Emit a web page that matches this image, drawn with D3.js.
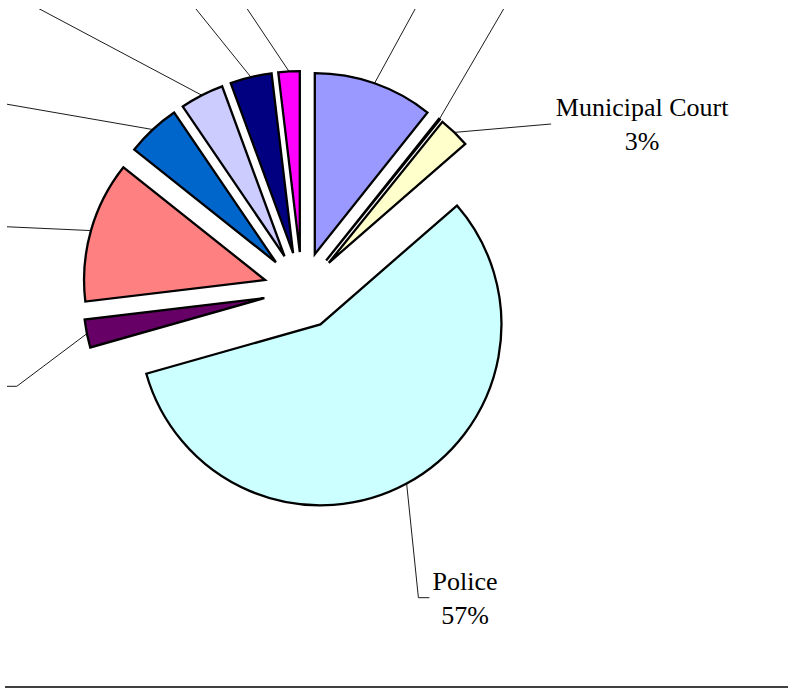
<!DOCTYPE html>
<html>
<head>
<meta charset="utf-8">
<script src="https://cdn.jsdelivr.net/npm/d3@7"></script>
<style>
  html, body { margin: 0; padding: 0; background: #fff; }
  svg { display: block; }
</style>
</head>
<body>
<svg id="chart" width="788" height="689"></svg>
<script>
// Spending by department, share of total (%)
const departments = [
  "Administration", "City Attorney", "Municipal Court", "Police", "Animal Control",
  "Fire", "Public Works", "Parks", "Library", "Planning"
];
const shares = [10.7, 0.1, 2.8, 57.0, 2.5, 12.6, 4.8, 3.9, 3.7, 1.9];
const sliceColors = [
  "#9999FF", "#993366", "#FFFFCC", "#CCFFFF", "#660066",
  "#FF8080", "#0066CC", "#CCCCFF", "#000080", "#FF00FF"
];

// Leader line bends/ends for each slice, relative to the pie centre
const leaderPoints = [
  [[123.4, -300.5]],
  [[212.6, -300.5]],
  [[249, -166.5]],
  [[116.3, 307.2], [127.3, 307.2]],
  [[-285.3, 95.8], [-312, 95.8]],
  [[-312, -64.5]],
  [[-312, -189.2]],
  [[-298.3, -300.5]],
  [[-121.4, -300.5]],
  [[-67.5, -300.5]]
];
// Label boxes that fall inside the chart area (centre relative to the pie centre)
const labelBoxes = [
  { slice: 2, dx: 340, dy: -166.5 },
  { slice: 3, dx: 163, dy: 307 }
];

const W = 788, H = 689;
const cx = 302.1, cy = 290.5;
const radius = 181;
const explode = 38.5;

const svg = d3.select("#chart");

svg.append("defs").append("clipPath").attr("id", "area")
  .append("rect").attr("x", 7).attr("y", 9).attr("width", W - 7).attr("height", H - 9);

const root = svg.append("g").attr("clip-path", "url(#area)");
const g = root.append("g").attr("transform", `translate(${cx},${cy})`);

const pie = d3.pie().sort(null).value(d => d);
const arcs = pie(shares);
const arc = d3.arc().innerRadius(0).outerRadius(radius);
const total = d3.sum(shares);
const pct = d3.format(".0%");

const mid = a => (a.startAngle + a.endAngle) / 2;
const offset = a => [explode * Math.sin(mid(a)), -explode * Math.cos(mid(a))];

// Exploded slices
g.selectAll("path.slice")
  .data(arcs)
  .join("path")
  .attr("class", "slice")
  .attr("transform", a => `translate(${offset(a)[0]},${offset(a)[1]})`)
  .attr("d", arc)
  .attr("fill", (a, i) => sliceColors[i])
  .attr("stroke", "#000")
  .attr("stroke-width", 2.3)
  .attr("stroke-linejoin", "miter");

// Leader lines from the middle of each slice's rim
const line = d3.line();
g.selectAll("path.leader")
  .data(arcs)
  .join("path")
  .attr("class", "leader")
  .attr("fill", "none")
  .attr("stroke", "#000")
  .attr("stroke-width", 0.9)
  .attr("d", (a, i) => {
    const o = offset(a);
    const m = mid(a);
    const start = [o[0] + radius * Math.sin(m), o[1] - radius * Math.cos(m)];
    return line([start, ...leaderPoints[i]]);
  });

// Category name and percentage
const labels = g.selectAll("text.label")
  .data(labelBoxes)
  .join("text")
  .attr("class", "label")
  .attr("text-anchor", "middle")
  .attr("font-family", "'Liberation Serif', 'Times New Roman', serif")
  .attr("font-size", 26)
  .attr("fill", "#000");

labels.append("tspan")
  .attr("x", d => d.dx)
  .attr("y", d => d.dy - 8)
  .text(d => departments[d.slice]);
labels.append("tspan")
  .attr("x", d => d.dx)
  .attr("y", d => d.dy + 26)
  .text(d => pct(shares[d.slice] / total));

// Bottom border of the chart area
svg.append("line")
  .attr("x1", 5).attr("x2", W)
  .attr("y1", 687).attr("y2", 687)
  .attr("stroke", "#000")
  .attr("stroke-width", 1.5);
</script>
</body>
</html>
